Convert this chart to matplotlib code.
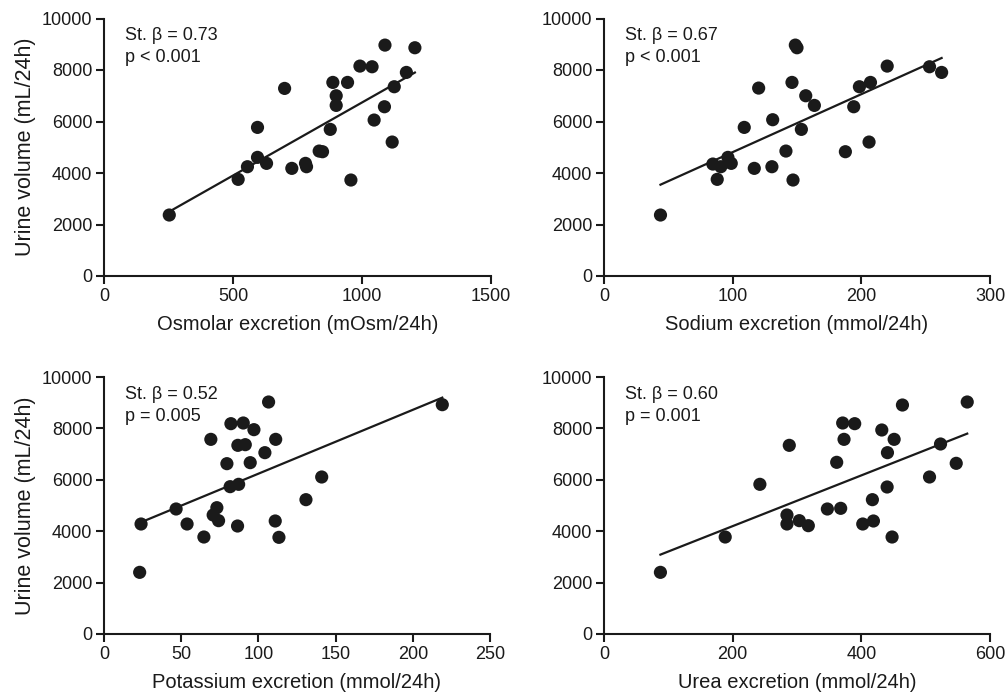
import numpy as np
import matplotlib
matplotlib.use("Agg")
import matplotlib.pyplot as plt

plt.rcParams['font.family'] = ['Liberation Sans', 'DejaVu Sans']

# Panel A: Osmolar excretion
osm_x = [253, 520, 556, 595, 595, 630, 700, 728, 781, 785, 834, 847, 877, 887, 900,
         900, 944, 957, 992, 1039, 1047, 1087, 1089, 1117, 1125, 1172, 1205]
osm_y = [2368, 3753, 4244, 5771, 4607, 4374, 7285, 4180, 4374, 4244, 4852, 4827, 5694,
         7518, 7000, 6625, 7518, 3727, 8152, 8126, 6056, 6573, 8967, 5202, 7350, 7906, 8864]

# Panel B: Sodium excretion
na_x = [43.9, 84.6, 88, 90.8, 96.3, 98.9, 109, 116.8, 120.2, 130.5, 131.1, 141.4, 146.1,
        146.9, 148.7, 150, 153.4, 156.8, 163.5, 187.6, 194.1, 198.5, 206, 207.1, 220.1,
        253, 262.4]
na_y = [2368, 4348, 3753, 4244, 4607, 4374, 5771, 4180, 7298, 4244, 6069, 4852, 7518,
        3727, 8967, 8864, 5694, 7000, 6625, 4827, 6573, 7350, 5202, 7518, 8152, 8126, 7906]

# Panel C: Potassium excretion
k_x = [23.1, 24, 46.7, 53.8, 64.7, 69.2, 70.7, 73.1, 74.2, 79.6, 81.7, 82.2, 86.5, 86.7,
       87.2, 90.2, 91.5, 94.7, 97.1, 104.2, 106.6, 110.9, 111.2, 113.3, 130.8, 141, 219.1]
k_y = [2399, 4280, 4864, 4280, 3774, 7574, 4630, 4915, 4410, 6628, 5733, 8184, 4202, 7341,
       5824, 8210, 7367, 6667, 7951, 7056, 9027, 4397, 7574, 3761, 5227, 6109, 8923]

# Panel D: Urea excretion
urea_x = [87.7, 188.4, 242.3, 284.4, 284.4, 288, 303.6, 317.6, 347.2, 361.7, 367.9, 371,
          373.1, 389.7, 402.2, 417.2, 418.8, 431.8, 440.1, 440.6, 447.8, 451, 463.9, 506,
          523.1, 547.5, 564.6]
urea_y = [2399, 3774, 5824, 4630, 4280, 7341, 4410, 4215, 4864, 6680, 4890, 8210, 7574,
          8184, 4280, 5227, 4397, 7938, 5720, 7056, 3774, 7574, 8910, 6109, 7393, 6641, 9027]

x_labels = ["Osmolar excretion (mOsm/24h)", "Sodium excretion (mmol/24h)",
            "Potassium excretion (mmol/24h)", "Urea excretion (mmol/24h)"]
y_label = "Urine volume (mL/24h)"
x_ticks = [[0, 500, 1000, 1500], [0, 100, 200, 300], [0, 50, 100, 150, 200, 250], [0, 200, 400, 600]]
y_ticks = [0, 2000, 4000, 6000, 8000, 10000]
beta_txt = ["St. \u03b2 = 0.73", "St. \u03b2 = 0.67", "St. \u03b2 = 0.52", "St. \u03b2 = 0.60"]
p_txt = ["p < 0.001", "p < 0.001", "p = 0.005", "p = 0.001"]

data = [(osm_x, osm_y), (na_x, na_y), (k_x, k_y), (urea_x, urea_y)]

W, H = 1006, 694
fig = plt.figure(figsize=(W / 100, H / 100), dpi=100)

boxes = [(104, 491, 18.5, 276), (604, 990, 18.5, 276),
         (104, 490, 377, 634), (604, 990, 377, 634)]
ink = '#1a1a1a'

for i, (xs, ys) in enumerate(data):
    l, r, t, b = boxes[i]
    ax = fig.add_axes([l / W, 1 - b / H, (r - l) / W, (b - t) / H])
    xs = np.array(xs, dtype=float)
    ys = np.array(ys, dtype=float)
    ax.scatter(xs, ys, s=90, color=ink, edgecolors='none', zorder=3, clip_on=False)
    m, c = np.polyfit(xs, ys, 1)
    xl = np.array([xs.min(), xs.max()])
    ax.plot(xl, m * xl + c, color=ink, lw=1.6, zorder=2)
    ax.set_xlim(x_ticks[i][0], x_ticks[i][-1])
    ax.set_ylim(0, 10000)
    ax.set_xticks(x_ticks[i])
    ax.set_yticks(y_ticks)
    for s in ['top', 'right']:
        ax.spines[s].set_visible(False)
    for s in ['left', 'bottom']:
        ax.spines[s].set_linewidth(1.5)
        ax.spines[s].set_color(ink)
    ax.tick_params(direction='out', length=5.5, width=1.5, labelsize=13, colors=ink, pad=3)
    ax.set_xlabel(x_labels[i], fontsize=14.5, color=ink, labelpad=7)
    if i % 2 == 0:
        ax.set_ylabel(y_label, fontsize=15.5, color=ink, labelpad=4)
    ax.text(0.054, 0.933, beta_txt[i], transform=ax.transAxes, fontsize=13,
            va='center', ha='left', color=ink)
    ax.text(0.054, 0.847, p_txt[i], transform=ax.transAxes, fontsize=13,
            va='center', ha='left', color=ink)

fig.savefig("out.png", dpi=100)
